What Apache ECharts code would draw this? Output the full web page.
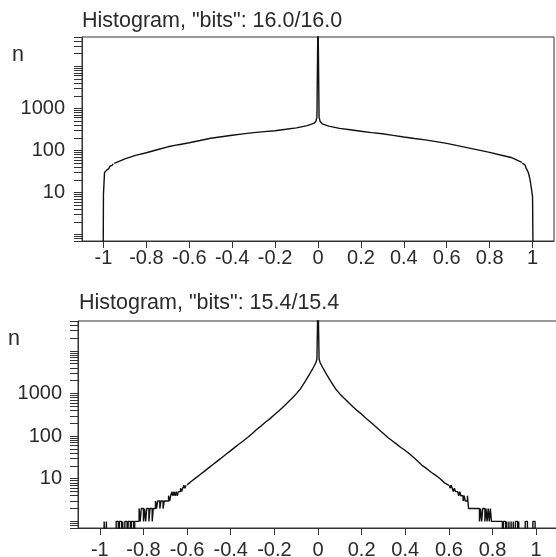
<!DOCTYPE html>
<html><head><meta charset="utf-8">
<script src="https://cdn.jsdelivr.net/npm/echarts@6/dist/echarts.min.js"></script>
<style>html,body{margin:0;padding:0;background:#fff}#c{width:556px;height:557px}</style>
</head><body><div id="c"></div>
<script>
// ---------- axis ticks / labels ----------
const xTickValues = [-1, -0.8, -0.6, -0.4, -0.2, 0, 0.2, 0.4, 0.6, 0.8, 1];
const yLabelValues = [10, 100, 1000];
const yTickValues = [0.7, 0.8, 0.9,
  1, 2, 3, 4, 5, 6, 7, 8, 9,
  10, 20, 30, 40, 50, 60, 70, 80, 90,
  100, 200, 300, 400, 500, 600, 700, 800, 900,
  1000, 2000, 3000, 4000, 5000, 6000, 7000, 8000, 9000,
  10000, 20000, 30000, 40000, 50000];
const titles = ['Histogram, "bits": 16.0/16.0', 'Histogram, "bits": 15.4/15.4'];
const yName = 'n';

// ---------- plot 1 (16.0 bits) ----------
const binWidth = 0.005;
const top_leftEdgeStart = -1.005;
const top_leftEdgeCounts = [0, 9, 30, 31, 34, 37, 40, 42, 44, 46, 48];
const top_bodyX = [-0.95, -0.9, -0.85, -0.8, -0.75, -0.7, -0.65, -0.6, -0.55, -0.5, -0.45, -0.4,
  -0.35, -0.3, -0.25, -0.2, -0.15, -0.1, -0.05, -0.02, -0.01, -0.005, 0, 0.005, 0.01, 0.02,
  0.05, 0.1, 0.15, 0.2, 0.25, 0.3, 0.35, 0.4, 0.45, 0.5, 0.55, 0.6, 0.65, 0.7, 0.75, 0.8,
  0.85, 0.9, 0.95];
const top_bodyN = [49, 63, 76, 88, 104, 122, 137, 152, 172, 195, 212, 230,
  248, 265, 280, 295, 318, 345, 390, 440, 490, 620, 200000, 620, 490, 430,
  380, 335, 310, 285, 265, 250, 228, 208, 192, 178, 162, 147, 130, 115, 102, 90,
  78, 68, 52];
const top_rightEdgeStart = 0.95;
const top_rightEdgeCounts = [50, 48, 45, 42, 38, 34, 30, 24, 18, 12, 8, 0];

// ---------- plot 2 (15.4 bits) ----------
const bot_leftTailStart = -1.0;
const bot_leftTailCounts = [0, 0, 0, 0,
  1, 0, 1, 0,
  0, 0, 0, 0, 0, 0, 0,
  1, 1, 0, 1, 1, 0, 1, 0, 1, 1, 0, 1, 1, 0, 1, 1, 0, 1, 1,
  1, 1,
  2, 1, 2, 2, 1, 2, 1, 2, 2, 1, 2, 2, 1, 2, 2,
  3, 2, 3, 3, 2, 3, 3, 2, 3,
  3, 3, 3, 4, 3, 4, 5, 4, 5, 4, 5, 4, 5, 5, 6, 5, 6, 7, 6, 7];
const bot_bodyX = [-0.6, -0.58, -0.56, -0.54, -0.52, -0.5, -0.48, -0.46, -0.44, -0.42, -0.4,
  -0.38, -0.36, -0.34, -0.32, -0.3, -0.28, -0.26, -0.24, -0.22, -0.2, -0.18, -0.16, -0.14,
  -0.12, -0.1, -0.08, -0.06, -0.04, -0.02, -0.01, -0.005, 0, 0.005, 0.01,
  0.02, 0.04, 0.06, 0.08, 0.1, 0.12, 0.14, 0.16, 0.18, 0.2, 0.22, 0.24, 0.26, 0.28, 0.3,
  0.32, 0.34, 0.36, 0.38, 0.4, 0.42, 0.44, 0.46, 0.48, 0.5, 0.52, 0.54, 0.56, 0.58, 0.6];
const bot_bodyN = [7.2, 8.7, 10.5, 12.6, 15.1, 18.2, 21.9, 26.3, 31.6, 38, 45.7,
  55, 66, 79, 95.5, 117, 145, 174, 214, 257, 316, 389, 484, 603,
  759, 977, 1290, 1860, 2750, 4170, 5250, 6310, 200000, 6310, 5250,
  4170, 2750, 1860, 1290, 977, 770, 610, 490, 395, 324, 263, 214, 174, 141, 115,
  93, 78, 65, 54, 46, 38, 31, 25, 20, 17, 14, 12, 10, 8, 7];
const bot_rightTailStart = 0.6;
const bot_rightTailCounts = [7, 6, 7, 6, 5, 6, 5, 5,
  5, 4, 5, 4, 4, 3, 4, 3, 3, 4,
  2, 2, 2, 2, 2, 2, 2, 2,
  2, 2, 1, 2, 1, 2, 2, 1, 2, 1, 2, 1, 2, 1,
  1, 1, 1, 1, 1, 1, 1, 1,
  1, 0, 1, 1, 0, 1, 0, 1, 0, 1, 0, 1, 0, 1, 1, 0, 1, 0,
  0, 0, 0, 0,
  1, 1,
  0, 0, 0, 0, 0,
  1, 1,
  0];

// ---------- helpers ----------
const BELOW = 0.01; // empty bins sit below the axis minimum (clipped)
function binSeries(start, counts) {
  return counts.map((c, i) => [start + (i + 0.5) * binWidth, c > 0 ? c : BELOW]);
}
function pairSeries(xs, ns) { return xs.map((x, i) => [x, ns[i]]); }

const FONT = 'Liberation Sans';
const TXT = '#2b2b2b';
const AX = '#333';
const lineStyle = { color: '#111', width: 1.4 };

function xAxisDef(gi, margin) {
  return {
    type: 'value', gridIndex: gi, min: -1.1, max: 1.1,
    splitLine: { show: false },
    axisLine: { show: true, onZero: false, lineStyle: { color: AX, width: 1 } },
    axisTick: { show: true, customValues: xTickValues, length: 7, lineStyle: { color: AX } },
    axisLabel: { customValues: xTickValues, margin: margin, color: TXT, fontFamily: FONT, fontSize: 20,
      formatter: v => String(v) }
  };
}
function yAxisDef(gi, margin) {
  return {
    type: 'log', gridIndex: gi, min: 0.7, max: 50000, logBase: 10,
    splitLine: { show: false },
    minorTick: { show: false },
    axisLine: { show: true, onZero: false, lineStyle: { color: AX, width: 1 } },
    axisTick: { show: true, customValues: yTickValues, length: 8, lineStyle: { color: AX } },
    axisLabel: { customValues: yLabelValues, margin: margin, color: TXT, fontFamily: FONT, fontSize: 20,
      formatter: v => String(Math.round(v)) }
  };
}
function lineSeries(gi, data, step) {
  return {
    type: 'line', xAxisIndex: gi, yAxisIndex: gi, data: data, step: step || false,
    symbol: 'none', lineStyle: lineStyle, clip: true, silent: true
  };
}
const titleStyle = { color: TXT, fontFamily: FONT, fontSize: 21.5, fontWeight: 'normal' };

const option = {
  animation: false,
  backgroundColor: '#fff',
  title: [
    { text: titles[0], left: 82, top: 10, padding: 0, textStyle: titleStyle },
    { text: yName, left: 12, top: 44, padding: 0, textStyle: titleStyle },
    { text: titles[1], left: 79, top: 292, padding: 0, textStyle: titleStyle },
    { text: yName, left: 8, top: 328, padding: 0, textStyle: titleStyle }
  ],
  grid: [
    { left: 82, top: 37, width: 472, height: 204, outerBoundsMode: 'none', containLabel: false,
      show: true, borderColor: AX, borderWidth: 1, backgroundColor: 'transparent' },
    { left: 78, top: 321, width: 480, height: 207, outerBoundsMode: 'none', containLabel: false,
      show: true, borderColor: AX, borderWidth: 1, backgroundColor: 'transparent' }
  ],
  xAxis: [xAxisDef(0, 7), xAxisDef(1, 12)],
  yAxis: [yAxisDef(0, 17), yAxisDef(1, 16)],
  series: [
    lineSeries(0, binSeries(top_leftEdgeStart, top_leftEdgeCounts), 'middle'),
    lineSeries(0, pairSeries(top_bodyX, top_bodyN)),
    lineSeries(0, binSeries(top_rightEdgeStart, top_rightEdgeCounts), 'middle'),
    lineSeries(1, binSeries(bot_leftTailStart, bot_leftTailCounts), 'middle'),
    lineSeries(1, pairSeries(bot_bodyX, bot_bodyN)),
    lineSeries(1, binSeries(bot_rightTailStart, bot_rightTailCounts), 'middle')
  ]
};
const chart = echarts.init(document.getElementById('c'), null, { renderer: 'canvas' });
chart.setOption(option);
</script>
</body></html>
